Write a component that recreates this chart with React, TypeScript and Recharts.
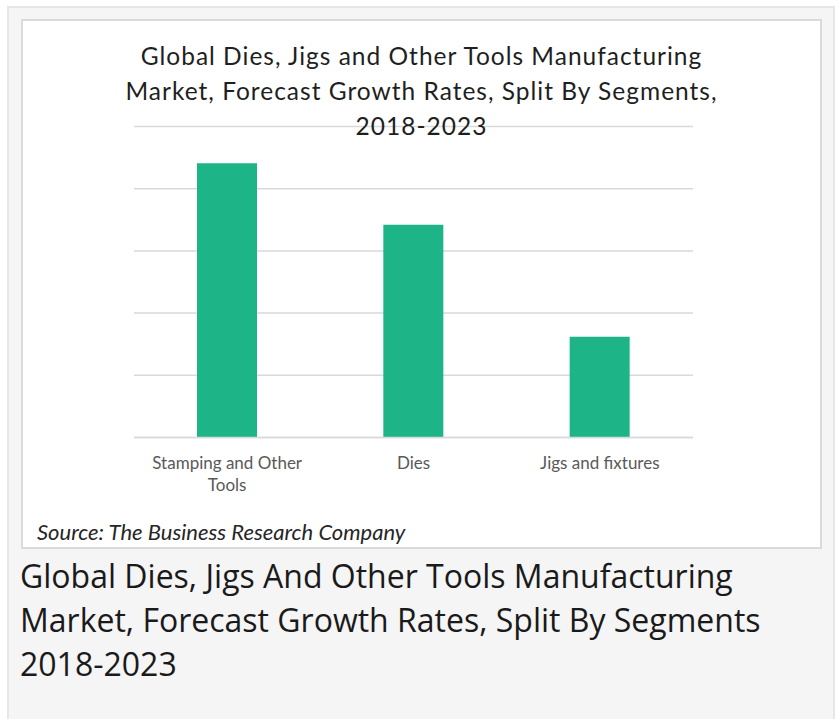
import React from 'react';
import { BarChart, Bar, XAxis, YAxis, CartesianGrid, Text } from 'recharts';

const categories = ['Stamping and Other Tools', 'Dies', 'Jigs and fixtures'];
const growthValues = [4.41, 3.42, 1.62];
const yTicks = [0, 1, 2, 3, 4, 5];
const titleLines = [
  'Global Dies, Jigs and Other Tools Manufacturing',
  'Market, Forecast Growth Rates, Split By Segments,',
  '2018-2023',
];
const captionLines = [
  'Global Dies, Jigs And Other Tools Manufacturing',
  'Market, Forecast Growth Rates, Split By Segments',
  '2018-2023',
];
const sourceText = 'Source: The Business Research Company';

const data = categories.map((name, i) => ({ name, value: growthValues[i] }));

const chartFont = 'Lato, "Open Sans", sans-serif';

const CategoryTick = (props: any) => {
  const { x, y, payload } = props;
  return (
    <Text
      x={x}
      y={y + 11}
      width={170}
      textAnchor="middle"
      verticalAnchor="start"
      lineHeight={22}
      style={{ fontFamily: chartFont, fontSize: 17, fill: '#595959' }}
    >
      {payload.value}
    </Text>
  );
};

export default function App() {
  return (
    <div style={{ position: 'absolute', left: 0, top: 0, width: 838, height: 719, overflow: 'hidden', background: '#fff' }}>
      <div style={{ position: 'absolute', left: 7, top: 6, width: 828, height: 730, boxSizing: 'border-box', background: '#f5f5f5', border: '2px solid #e6e6e6' }} />
      <div style={{ position: 'absolute', left: 21, top: 19, width: 801, height: 530, boxSizing: 'border-box', background: '#fff', border: '2px solid #dadada' }} />
      <div style={{ position: 'absolute', left: 0, top: 0 }}>
        <BarChart width={838} height={560} data={data} margin={{ top: 126.5, right: 145, left: 134, bottom: 82.5 }}>
          <CartesianGrid vertical={false} stroke="#d9d9d9" strokeWidth={1.5} />
          <YAxis hide domain={[0, 5]} ticks={yTicks} />
          <XAxis
            dataKey="name"
            height={40}
            interval={0}
            axisLine={{ stroke: '#d9d9d9', strokeWidth: 1.5 }}
            tickLine={false}
            tick={<CategoryTick />}
          />
          <Bar dataKey="value" fill="#1db588" barSize={60} isAnimationActive={false} />
        </BarChart>
      </div>
      <div style={{ position: 'absolute', left: 21, top: 38, width: 801, textAlign: 'center', fontFamily: chartFont, fontSize: 24.5, letterSpacing: 1, lineHeight: '35px', color: '#1f1f1f' }}>
        {titleLines.map((line) => (
          <div key={line}>{line}</div>
        ))}
      </div>
      <div style={{ position: 'absolute', left: 37, top: 516.5, fontFamily: chartFont, fontStyle: 'italic', fontSize: 22, lineHeight: '30px', color: '#262626', whiteSpace: 'nowrap' }}>
        {sourceText}
      </div>
      <div style={{ position: 'absolute', left: 20, top: 553.5, fontFamily: '"Open Sans", sans-serif', fontSize: 32, lineHeight: '44px', color: '#1a1a1a', whiteSpace: 'nowrap' }}>
        {captionLines.map((line) => (
          <div key={line}>{line}</div>
        ))}
      </div>
    </div>
  );
}
